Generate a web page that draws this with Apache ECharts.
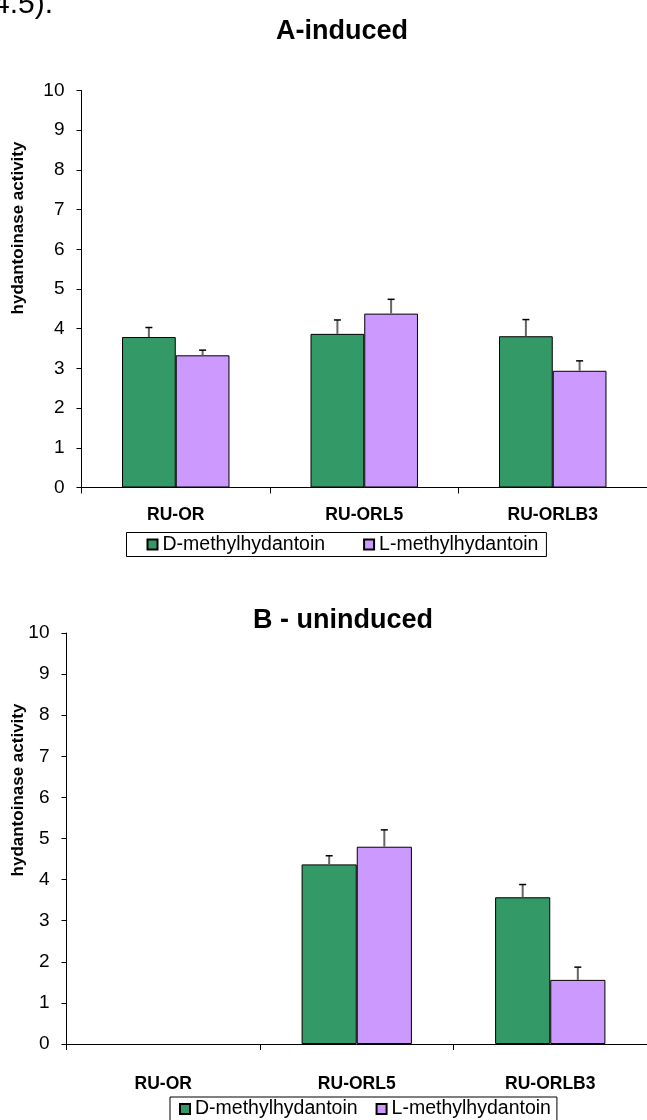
<!DOCTYPE html>
<html lang="en">
<head>
    <meta charset="UTF-8">
    <title>hydantoinase</title>
    <script src="https://cdn.jsdelivr.net/npm/echarts@6/dist/echarts.min.js"></script>
    <style>
        body { margin: 0; background: #fff; }
        #main { width: 647px; height: 1120px; }
    </style>
</head>
<body>
<div id="main"></div>

<script type="text/javascript">
    // strains on the x axis
    var categories = ['RU-OR', 'RU-ORL5', 'RU-ORLB3'];
    var seriesNames = ['D-methylhydantoin', 'L-methylhydantoin'];

    // A - induced
    var inducedD = [3.79, 3.87, 3.81];
    var inducedDErr = [0.24, 0.35, 0.42];
    var inducedL = [3.33, 4.38, 2.94];
    var inducedLErr = [0.13, 0.36, 0.25];

    // B - uninduced
    var uninducedD = [0, 4.37, 3.57];
    var uninducedDErr = [0, 0.21, 0.31];
    var uninducedL = [0, 4.80, 1.56];
    var uninducedLErr = [0, 0.41, 0.31];

    var green = '#339966';
    var purple = '#CC99FF';
    var font = '"Liberation Sans", Arial, sans-serif';
    var gap = 0.43;

    var myChart = echarts.init(document.getElementById('main'));

    function errData(vals, errs) {
        return vals.map(function (v, i) { return [i, v, errs[i]]; });
    }

    // only the upper whisker, like the excel original
    function errSeries(name, idx, side, vals, errs) {
        return {
            name: name,
            type: 'custom',
            xAxisIndex: idx,
            yAxisIndex: idx,
            z: 5,
            silent: true,
            data: errData(vals, errs),
            renderItem: function (params, api) {
                var e = api.value(2);
                if (!e) return null;
                var v = api.value(1);
                var catW = api.size([1, 0])[0];
                var barW = catW * (1 - gap) / 2;
                var p0 = api.coord([api.value(0), v]);
                var p1 = api.coord([api.value(0), v + e]);
                var x = p0[0] + side * barW / 2;
                return {
                    type: 'group',
                    children: [
                        {type: 'line', shape: {x1: x, y1: p0[1], x2: x, y2: p1[1]},
                            style: {stroke: '#666', lineWidth: 2}},
                        {type: 'line', shape: {x1: x - 3.5, y1: p1[1], x2: x + 3.5, y2: p1[1]},
                            style: {stroke: '#000', lineWidth: 1.5}}
                    ]
                };
            }
        };
    }

    function barSeries(name, idx, color, vals) {
        return {
            name: name,
            type: 'bar',
            xAxisIndex: idx,
            yAxisIndex: idx,
            barGap: 0,
            barCategoryGap: (gap * 100) + '%',
            itemStyle: {color: color, borderColor: '#000', borderWidth: 1},
            data: vals.map(function (v) {
                // zero bars show nothing in the original
                return v === 0 ? {value: 0, itemStyle: {borderWidth: 0}} : v;
            })
        };
    }

    function xAx(idx, margin) {
        return {
            type: 'category',
            gridIndex: idx,
            data: categories,
            axisLine: {lineStyle: {color: '#000', width: 1}},
            axisTick: {show: true, alignWithLabel: false, length: 6, lineStyle: {color: '#000'}},
            axisLabel: {color: '#000', fontFamily: font, fontWeight: 'bold', fontSize: 17.5, margin: margin}
        };
    }

    function yAx(idx) {
        return {
            type: 'value',
            gridIndex: idx,
            min: 0,
            max: 10,
            interval: 1,
            axisLine: {show: true, lineStyle: {color: '#000', width: 1}},
            axisTick: {show: true, length: 5, lineStyle: {color: '#000'}},
            splitLine: {show: false},
            axisLabel: {color: '#000', fontFamily: font, fontSize: 19, margin: 17}
        };
    }

    function legendAt(left, top, itemGap, pad) {
        return {
            left: left,
            top: top,
            data: seriesNames,
            icon: 'rect',
            itemWidth: 10,
            itemHeight: 10,
            itemGap: itemGap,
            padding: pad,
            borderColor: '#000',
            borderWidth: 1,
            selectedMode: false,
            textStyle: {color: '#000', fontFamily: font, fontSize: 19.5}
        };
    }

    function bigText(txt, x, y, size, bold) {
        return {
            type: 'text', x: x, y: y,
            style: {text: txt, fill: '#000', font: (bold ? 'bold ' : '') + size + 'px ' + font,
                align: 'center', verticalAlign: 'middle'}
        };
    }

    function yName(x, y) {
        return {
            type: 'text', x: x, y: y, rotation: Math.PI / 2,
            style: {text: 'hydantoinase activity', fill: '#000', font: 'bold 17px ' + font,
                align: 'center', verticalAlign: 'middle'}
        };
    }

    var option = {
        animation: false,
        backgroundColor: '#fff',
        grid: [
            {left: 81.5, top: 90.5, width: 576, height: 397},
            {left: 66.5, top: 633, width: 590, height: 411}
        ],
        xAxis: [xAx(0, 19), xAx(1, 31)],
        yAxis: [yAx(0), yAx(1)],
        legend: [
            legendAt(126.5, 532.5, 38, [2, 8, 2, 20]),
            legendAt(170, 1097, 18, [2, 6, 2, 9])
        ],
        graphic: [
            {type: 'text', x: -7, y: 20,
                style: {text: '4.5).', fill: '#000', font: '30px ' + font, align: 'left', verticalAlign: 'bottom'}},
            bigText('A-induced', 342, 32, 27, true),
            bigText('B - uninduced', 343, 621, 27, true),
            yName(18, 228),
            yName(18, 790)
        ],
        series: [
            barSeries(seriesNames[0], 0, green, inducedD),
            barSeries(seriesNames[1], 0, purple, inducedL),
            barSeries(seriesNames[0], 1, green, uninducedD),
            barSeries(seriesNames[1], 1, purple, uninducedL),
            errSeries('errA_D', 0, -1, inducedD, inducedDErr),
            errSeries('errA_L', 0, 1, inducedL, inducedLErr),
            errSeries('errB_D', 1, -1, uninducedD, uninducedDErr),
            errSeries('errB_L', 1, 1, uninducedL, uninducedLErr)
        ]
    };

    myChart.setOption(option);
</script>

</body>
</html>
